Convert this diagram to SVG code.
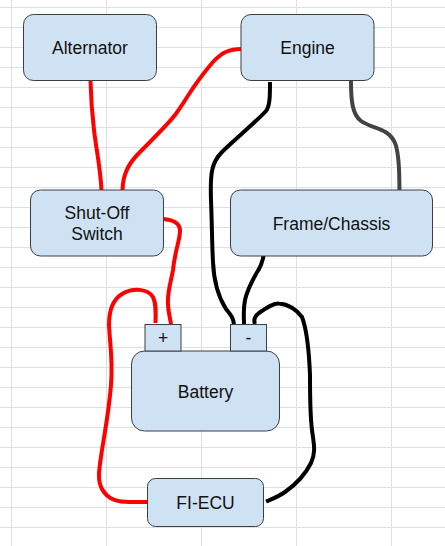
<svg xmlns="http://www.w3.org/2000/svg" width="445" height="546" viewBox="0 0 445 546">
<style>
.g{stroke:#e0e0e0;stroke-width:1;fill:none}
.n{fill:#cfe2f3;stroke:#3b3f44;stroke-width:1}
.t{font-family:"Liberation Sans",Arial,sans-serif;font-size:17.500px;fill:#111;text-anchor:middle}
.w{fill:none;stroke-width:4;stroke-linecap:butt;stroke-linejoin:round}
.r{stroke:#ff0000}.b{stroke:#000}.d{stroke:#434343}
</style>
<rect width="445" height="546" fill="#fff"/>
<path class="g" d="M0 7.500H445M0 27.500H445M0 47.500H445M0 67.500H445M0 87.500H445M0 107.500H445M0 127.500H445M0 147.500H445M0 167.500H445M0 187.500H445M0 207.500H445M0 227.500H445M0 247.500H445M0 267.500H445M0 287.500H445M0 307.500H445M0 327.500H445M0 347.500H445M0 367.500H445M0 387.500H445M0 407.500H445M0 427.500H445M0 447.500H445M0 467.500H445M0 487.500H445M0 507.500H445M0 527.500H445M11.500 0V546M106.500 0V546M201.500 0V546M296.500 0V546M391.500 0V546"/>
<g id="connectors">
<path class="w r" d="M90.500 81C91 100 92 113 94 130C96 148 100 165 101.500 190"/>
<path class="w r" d="M241 49C230 49 222 52 213 62C205 71 200 78 193 88C187 97 181 107 175 115C168 124 150 142 140 152C130 162 123 172 122.500 190"/>
<path class="w r" d="M163 219C172 220 180 222 180 231C180 240 175 250 173 270C171 282 167 292 168 305C168.500 313 170 318 171 324"/>
<path class="w r" d="M155.500 323C156 310 156 303 153 297C148 289 133 287 122 294C112 300 109 312 109 325C110 345 113 360 111 385C109 410 106 425 102 450C99 470 97 480 102 489C108 500 118 502 130 502L148 502"/>
<path class="w b" d="M270 82C270 95 270 106 266 111C258 120 232 142 222 152C212 162 210 172 211 200C212 225 212 245 213 262C214 285 219 298 226 309C231 315 234 319 234 325"/>
<path class="w b" d="M264 253C263 262 260 268 256 274C251 283 247 291 245 300C243 310 244 316 244 325"/>
<path class="w b" d="M255 324C253 319 255 316 259 313C266 308 273 303 279 303.500C288 304 297 310 302 317C307 330 309 350 310 375C310 395 310 415 312 430C314 445 316 452 311 463C304 477 295 485 285 492C278 497 272 499 266 501.500"/>
<path class="w d" d="M351 81C351 100 352 114 361 121C372 129 388 127 395 143C400 155 399 175 399.500 190"/>
</g>
<g id="alternator"><rect class="n" x="23.500" y="14.500" width="133" height="66" rx="10"/><text class="t" x="90" y="54">Alternator</text></g>
<g id="engine"><rect class="n" x="241" y="14.500" width="133" height="66" rx="10"/><text class="t" x="307.500" y="54">Engine</text></g>
<g id="shutoff"><rect class="n" x="30.500" y="190" width="133" height="66" rx="10"/><text class="t" x="97" y="219">Shut-Off</text><text class="t" x="97" y="240">Switch</text></g>
<g id="frame"><rect class="n" x="230.500" y="190" width="202" height="66" rx="10"/><text class="t" x="331.500" y="230">Frame/Chassis</text></g>
<g id="battery"><rect class="n" x="131.500" y="351" width="148" height="80" rx="13"/><text class="t" x="205.500" y="398">Battery</text></g>
<g id="plus"><rect class="n" x="145" y="324.500" width="36" height="26.500"/><text class="t" x="163" y="344">+</text></g>
<g id="minus"><rect class="n" x="230.500" y="324.500" width="36" height="26.500"/><text class="t" x="248.500" y="344">-</text></g>
<g id="ecu"><rect class="n" x="147.500" y="478.500" width="116" height="48" rx="8"/><text class="t" x="205.500" y="509">FI-ECU</text></g>
</svg>
